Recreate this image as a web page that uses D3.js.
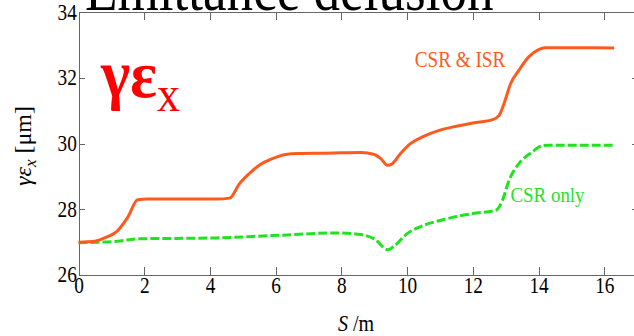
<!DOCTYPE html>
<html lang="en">
<head>
    <meta charset="UTF-8">
    <title>Emittance delusion</title>
    <script src="https://d3js.org/d3.v7.min.js"></script>
    <style>
        body {margin: 0; background: white;}
        svg {display: block; overflow: hidden;}
        .axis path, .axis line {stroke: #666; stroke-width: 1; shape-rendering: crispEdges;}
        .axis text {font-size: 23px; fill: black;}
    </style>
</head>
<body>
<div class="sh"></div>
<script>

    // S position along the line [m]
    var sBoth = [0, 0.5, 0.8, 1.2, 1.5, 1.8, 2.1, 4.2, 4.6, 4.9, 5.2, 5.5, 5.9, 6.3, 6.7, 7.5, 8.0, 8.6, 9.0, 9.2, 9.4, 9.55, 9.8, 10.1, 10.5, 11.0, 11.5, 12.0, 12.6, 12.8, 12.95, 13.15, 13.4, 13.7, 14.0, 14.2, 16.3];
    var csrIsr = [27.0, 27.03, 27.13, 27.36, 27.76, 28.29, 28.31, 28.31, 28.34, 28.78, 29.09, 29.34, 29.54, 29.67, 29.70, 29.71, 29.72, 29.73, 29.67, 29.54, 29.34, 29.39, 29.70, 30.0, 30.22, 30.41, 30.53, 30.63, 30.73, 30.86, 31.22, 31.83, 32.23, 32.64, 32.86, 32.92, 32.91];

    var sCsr = [0, 1.2, 1.8, 4.2, 5.9, 7.9, 8.6, 9.0, 9.42, 9.57, 10.0, 10.5, 11.0, 11.5, 12.0, 12.7, 12.9, 13.1, 13.4, 13.8, 14.1, 14.3, 16.3];
    var csrOnly = [26.98, 27.03, 27.1, 27.13, 27.2, 27.28, 27.23, 27.1, 26.77, 26.85, 27.26, 27.51, 27.66, 27.78, 27.87, 27.97, 28.27, 28.88, 29.39, 29.74, 29.93, 29.95, 29.95];

    var xTicks = [0, 2, 4, 6, 8, 10, 12, 14, 16],
        yTicks = [26, 28, 30, 32, 34];

    var width = 634, height = 336;
    var serif = "'Liberation Serif', 'Times New Roman', serif";

    var x = d3.scaleLinear()
        .domain([0, 17.05])
        .range([78.5, 638.8]);

    var y = d3.scaleLinear()
        .domain([26, 34])
        .range([275, 12.2]);

    var svg = d3.select('.sh').append("svg")
        .attr("width", width)
        .attr("height", height);

    // title, mostly cut off at the top
    svg.append("text")
        .attr("transform", "translate(85,9.5) scale(0.83,1)")
        .style("font-size", "64px")
        .text("Emittance delusion");

    // axes, ticks point inward
    var bottom = svg.append("g").attr("class", "axis")
        .attr("transform", "translate(0," + y(26) + ")")
        .call(d3.axisBottom(x).tickValues(xTicks).tickSizeInner(-8).tickSizeOuter(0).tickPadding(1.5));
    bottom.selectAll("text").attr("transform", "scale(0.84,1)");

    svg.append("g").attr("class", "axis")
        .attr("transform", "translate(0," + y(34) + ")")
        .call(d3.axisTop(x).tickValues(xTicks).tickSizeInner(-8).tickSizeOuter(0).tickFormat(""));

    var left = svg.append("g").attr("class", "axis")
        .attr("transform", "translate(" + x(0) + ",0)")
        .call(d3.axisLeft(y).tickValues(yTicks).tickSizeInner(-6).tickSizeOuter(0).tickPadding(2));
    left.selectAll("text").attr("transform", "scale(0.84,1)").attr("dy", "0.3em");

    svg.append("g").attr("class", "axis")
        .attr("transform", "translate(" + x(17.05) + ",0)")
        .call(d3.axisRight(y).tickValues(yTicks).tickSizeInner(-7).tickSizeOuter(0).tickFormat(""));

    var line = d3.line()
        .x(function(d) {return x(d[0])})
        .y(function(d) {return y(d[1])})
        .curve(d3.curveMonotoneX);

    svg.append("path")
        .datum(d3.zip(sCsr, csrOnly))
        .attr("d", line)
        .attr("fill", "none")
        .attr("stroke", "#1ee41e")
        .attr("stroke-width", 3)
        .attr("stroke-dasharray", "9,3");

    svg.append("path")
        .datum(d3.zip(sBoth, csrIsr))
        .attr("d", line)
        .attr("fill", "none")
        .attr("stroke", "#ff5a1e")
        .attr("stroke-width", 3);

    // line labels
    svg.append("text")
        .attr("transform", "translate(460,67) scale(0.8,1)")
        .attr("text-anchor", "middle")
        .style("font-size", "24px")
        .attr("fill", "#ff5a1e")
        .text("CSR & ISR");

    svg.append("text")
        .attr("transform", "translate(547.5,202) scale(0.86,1)")
        .attr("text-anchor", "middle")
        .style("font-size", "22px")
        .attr("fill", "#1ee41e")
        .text("CSR only");

    // big red symbol
    var sym = svg.append("text")
        .attr("transform", "translate(101,97) scale(0.92,1)")
        .attr("fill", "red")
        .style("font-size", "68px");
    sym.append("tspan").style("font-weight", "bold").text("γε");
    sym.append("tspan").attr("dy", 14).style("font-size", "50px").text("x");

    // axis titles
    var xl = svg.append("text")
        .attr("transform", "translate(356,331) scale(0.87,1)")
        .attr("text-anchor", "middle")
        .style("font-size", "23px");
    xl.append("tspan").style("font-style", "italic").text("S");
    xl.append("tspan").text(" /m");

    var yl = svg.append("text")
        .attr("transform", "translate(31,146) rotate(-90)")
        .attr("text-anchor", "middle")
        .style("font-size", "24px");
    yl.append("tspan").style("font-style", "italic").text("γε");
    yl.append("tspan").attr("dy", 5).style("font-style", "italic").style("font-size", "17px").text("x");
    yl.append("tspan").attr("dy", -5).text(" [μm]");

    svg.selectAll("g.axis").attr("font-family", null);
    svg.selectAll("text").style("font-family", serif);

</script>
</body>
</html>
